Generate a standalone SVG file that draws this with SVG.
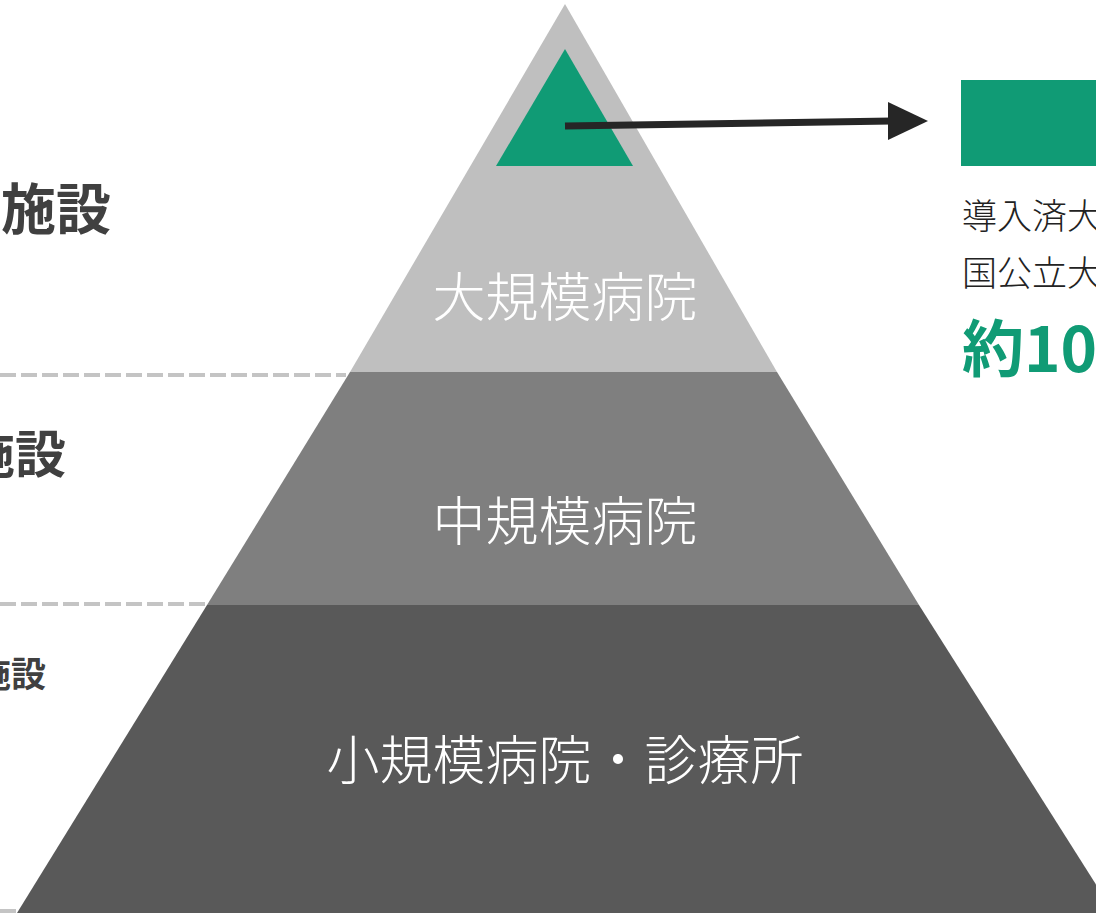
<svg xmlns="http://www.w3.org/2000/svg" width="1096" height="913" viewBox="0 0 1096 913">
<style>
.lbl{font-family:"Noto Sans CJK JP","Noto Sans",sans-serif;font-weight:300;fill:#ffffff;font-size:53px;text-anchor:middle}
.side{font-family:"Noto Sans CJK JP","Noto Sans",sans-serif;font-weight:700;fill:#404040;text-anchor:end}
.info{font-family:"Noto Sans CJK JP","Noto Sans",sans-serif;font-weight:300;fill:#222222;font-size:35px}
.dash{stroke:#c4c4c4;stroke-width:4;stroke-dasharray:16 5;fill:none}
</style>
<rect width="1096" height="913" fill="#ffffff"/>
<g id="levels">
<line class="dash" x1="0" y1="375" x2="346" y2="375"/>
<line class="dash" x1="0" y1="604" x2="206" y2="604"/>
<line class="dash" x1="0" y1="911" x2="16" y2="911"/>
</g>
<g id="layer-top">
<polygon points="565,4 777,372 350,372" fill="#bfbfbf"/>
<text class="lbl" x="565" y="317">大規模病院</text>
</g>
<g id="layer-middle">
<polygon points="350,372 777,372 919,605 207,605" fill="#7f7f7f"/>
<text class="lbl" x="565" y="541">中規模病院</text>
</g>
<g id="layer-bottom">
<polygon points="207,605 919,605 1114,913 17,913" fill="#595959"/>
<text class="lbl" x="565" y="780">小規模病院・診療所</text>
</g>
<g id="apex">
<polygon points="565,49 633,166 496,166" fill="#109b75"/>
</g>
<g id="connectors">
<line x1="565" y1="126" x2="892" y2="121" stroke="#262626" stroke-width="7"/>
<polygon points="928,121 888,102 888,140" fill="#262626"/>
</g>
<g id="side-labels">
<text class="side" x="111" y="229" font-size="55">施設</text>
<text class="side" x="66" y="473" font-size="51">施設</text>
<text class="side" x="46" y="687" font-size="35">施設</text>
</g>
<g id="info">
<rect x="961" y="80" width="140" height="86" fill="#109b75"/>
<text class="info" x="962" y="229">導入済大</text>
<text class="info" x="962" y="286">国公立大</text>
<text x="962" y="372" font-family="Noto Sans CJK JP,Noto Sans,sans-serif" font-weight="700" font-size="62" fill="#109b75">約10</text>
</g>
</svg>
